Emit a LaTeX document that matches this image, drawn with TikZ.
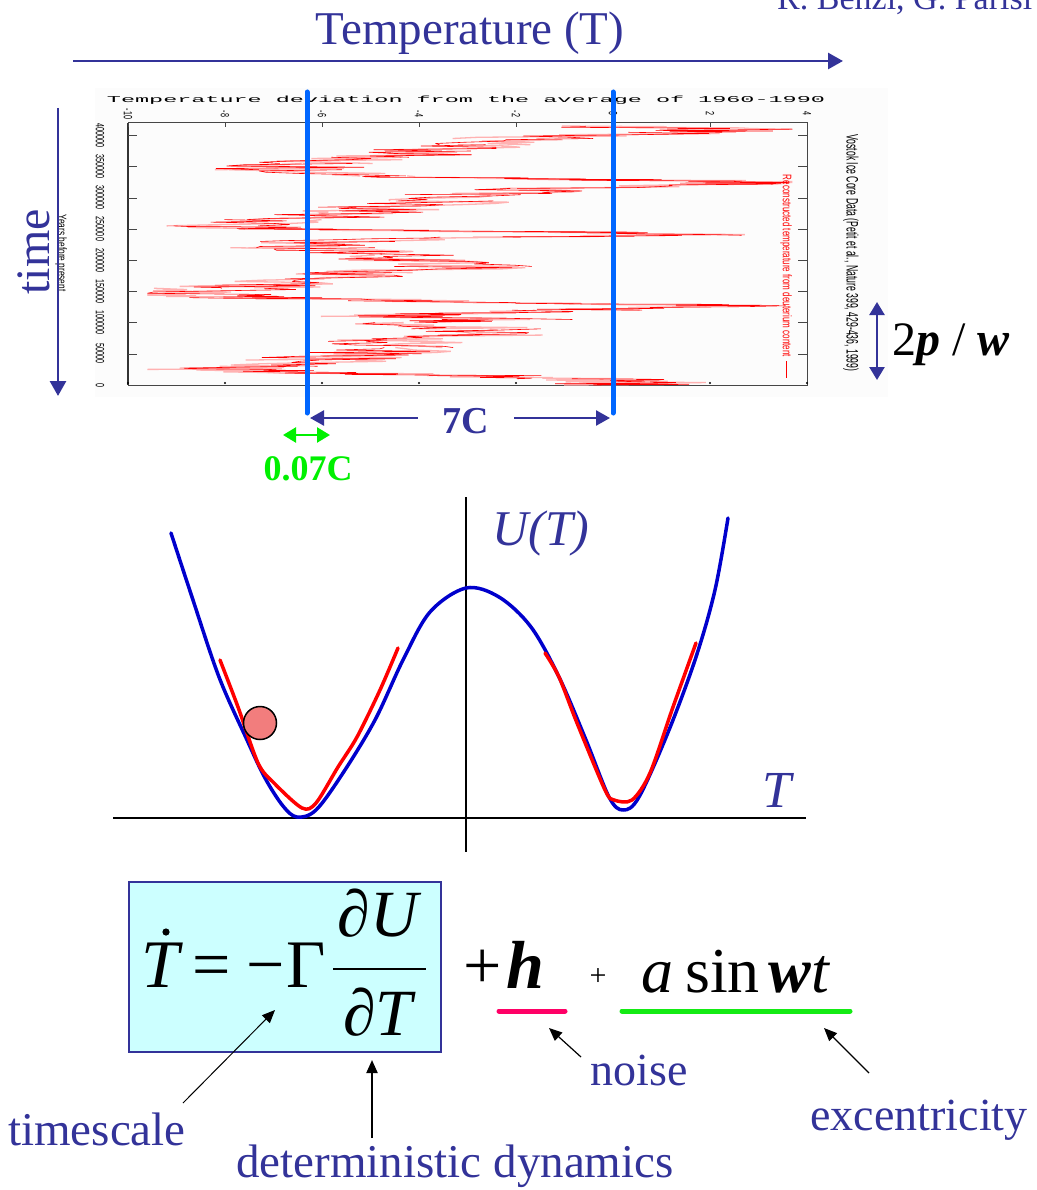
\documentclass[tikz,border=0pt]{standalone}
\usepackage{fontspec}
\setmainfont{Liberation Serif}
\setsansfont{Liberation Sans}
\setmonofont{Liberation Mono}
\usepackage{graphicx}
\usetikzlibrary{arrows.meta}
\definecolor{SlideBlue}{RGB}{51,51,153}
\definecolor{MarkBlue}{RGB}{0,102,255}
\definecolor{WellBlue}{RGB}{0,0,204}
\definecolor{FitRed}{RGB}{255,0,0}
\definecolor{NoiseGreen}{RGB}{0,240,0}
\definecolor{UnderPink}{RGB}{255,0,102}
\definecolor{UnderGreen}{RGB}{20,235,20}
\definecolor{BoxCyan}{RGB}{204,255,255}
\definecolor{BallRed}{RGB}{242,125,125}
\definecolor{ChartBack}{RGB}{252,252,252}
\newcommand{\pxfont}[1]{\fontsize{#1}{#1}\selectfont}

\begin{document}
\begin{tikzpicture}[x=1pt,y=-1pt,
  lbl/.style={inner sep=0pt,text=SlideBlue},
  tick/.style={inner sep=0pt,rotate=-90,font=\sffamily\pxfont{12}},
  bigarrow/.style={SlideBlue,line width=2.8pt,-{Triangle[length=15pt,width=16pt]}},
  dimarrow/.style={SlideBlue,line width=2.5pt,-{Triangle[length=14pt,width=15pt]}},
  both/.style={line width=2.5pt,{Triangle[length=13pt,width=15pt]}-{Triangle[length=13pt,width=15pt]}},
  marker/.style={MarkBlue,line width=5pt,line cap=round},
  well/.style={WellBlue,line width=3.5pt,line cap=round,line join=round},
  fit/.style={FitRed,line width=3.5pt,line cap=round,line join=round},
  callout/.style={black,line width=1.2pt,-{Triangle[length=13pt,width=11pt]}},
  under/.style={line width=5pt,line cap=round}]
\useasboundingbox (0,0) rectangle (1036,1190);

% header
\node[lbl,anchor=base west,font=\pxfont{34}] (authors) at (777,10) {R. Benzi, G. Parisi};
\node[lbl,anchor=base,font=\pxfont{47}] (tempLbl) at (470,45) {Temperature (T)};
\coordinate (tempFrom) at (73,61);
\coordinate (tempTo) at (843,61);
\draw[bigarrow] (tempFrom) -- (tempTo);
\node[lbl,rotate=90,font=\pxfont{48}] (timeLbl) at (34,252) {time};
\coordinate (timeFrom) at (58,108);
\coordinate (timeTo) at (58,396);

% vostok chart
\fill[ChartBack] (95,88) rectangle (888,397);
\node[inner sep=0pt] (chartTitle) at (466,100)
   {\resizebox{718pt}{6.5pt}{\ttfamily Temperature deviation from the average of 1960-1990}};
\draw[gray!55!black,line width=1pt] (128,123) rectangle (807,385);
\draw[black!80,line width=1.4pt] (128,123) -- (128,385);
\foreach \k/\yr in {0/0,1/50000,2/100000,3/150000,4/200000,5/250000,6/300000,7/350000,8/400000} {
   \node[tick] (yr\k) at (100,{385-31.2*\k}) {\scalebox{0.6}[1]{\yr}};
}
\foreach \k in {1,...,8} {
   \draw[gray!55!black] (128,{385-31.2*\k}) -- +(9,0) (807,{385-31.2*\k}) -- +(-9,0);
}
\foreach \k/\dt in {0/-10,1/-8,2/-6,3/-4,4/-2,5/0,6/2,7/4} {
   \node[tick] (dt\k) at ({128+97*\k},114) {\scalebox{0.6}[1]{\dt}};
   \draw[gray!55!black] ({128+97*\k},123) -- +(0,4);
   \fill ({128+97*\k},383) circle[radius=1.1pt];
}
\pgfmathsetseed{2718}
\foreach \pass/\ink/\lw in {1/red!30/1.3pt,2/FitRed/0.6pt} {
   \foreach \tk/\tv [remember=\tk as \tkp (initially 0),remember=\tv as \tvp (initially 0)] in
   {5/0.5,10/-0.5,15/-3,20/-6,25/-8.5,30/-7,40/-6,50/-5.5,60/-4,70/-4.5,80/-2.5,90/-3,
    100/-4,105/-2,110/-4.5,115/-3,120/-1,127/2.5,130/0,135/-4,140/-7.5,145/-8.5,155/-8,
    160/-7,170/-6,180/-5,190/-3,200/-4,210/-5,220/-6.5,230/-6,237/-2,240/2,245/-1,250/-7,
    255/-8,265/-6.5,275/-5.5,285/-4.5,295/-3.5,305/-3,315/-1,322/2.5,326/3,330/-1,335/-5.5,
    345/-7,355/-6,365/-5,375/-3.5,385/-3,395/-2,405/1.5,410/2.5,415/-1} {
      \draw[\ink,line width=\lw,line join=bevel] plot[domain=0:1,samples=6]
         ({128+48.5*(10+max(-9.6,min(3.7,(\tvp)+((\tv)-(\tvp))*\x+1.6*rand)))},
          {385-0.624*((\tkp)+((\tk)-(\tkp))*\x)});
   }
}
\node[rotate=-90,inner sep=0pt] (source) at (851,253)
   {\resizebox{237pt}{12pt}{\sffamily Vostok Ice Core Data (Petit et al., Nature 399, 429-436, 1999)}};
\node[rotate=-90,inner sep=0pt,text=FitRed] (series) at (786,266)
   {\resizebox{182pt}{9pt}{\sffamily Reconstructed temperature from deuterium content}};
\draw[FitRed,line width=1pt] (786,361) -- (786,378);
\node[rotate=-90,inner sep=0pt] (yrsbp) at (61,253)
   {\resizebox{77pt}{9pt}{\sffamily Years before present}};
\draw[bigarrow] (timeFrom) -- (timeTo);

% markers and spans
\coordinate (coldTop) at (307,92);
\coordinate (coldBot) at (307,413);
\coordinate (warmTop) at (613,92);
\coordinate (warmBot) at (613,413);
\draw[marker] (coldTop) -- (coldBot);
\draw[marker] (warmTop) -- (warmBot);
\node[lbl,inner xsep=25pt,font=\bfseries\pxfont{38}] (sevenC) at (466,421) {7C};
\coordinate (coldTip) at (310,418);
\coordinate (warmTip) at (610,418);
\draw[dimarrow] (sevenC.west |- coldTip) -- (coldTip);
\draw[dimarrow] (sevenC.east |- warmTip) -- (warmTip);
\coordinate (tolL) at (283,435);
\coordinate (tolR) at (330,435);
\draw[both,NoiseGreen] (tolL) -- (tolR);
\node[lbl,text=NoiseGreen,anchor=base,font=\bfseries\pxfont{36}] (tolLbl) at (308,480) {0.07C};
\coordinate (perTop) at (877,302);
\coordinate (perBot) at (877,380);
\draw[both,SlideBlue] (perTop) -- (perBot);
\node[inner sep=0pt,anchor=base west,font=\pxfont{48}] (perLbl) at (892,355)
   {2\textbf{\textit{p}} / \textbf{\textit{w}}};

% double well
\coordinate (uAxTop) at (466,497);
\coordinate (uAxBot) at (466,852);
\coordinate (tAxL) at (113,818);
\coordinate (tAxR) at (806,818);
\draw[line width=2pt] (tAxL) -- (tAxR);
\draw[line width=1.8pt] (uAxTop) -- (uAxBot);
\node[lbl,anchor=base,font=\itshape\pxfont{50}] (uLbl) at (541,545) {U(T)};
\node[lbl,anchor=base,font=\itshape\pxfont{52}] (tLbl) at (777,807) {T};
\draw[well] plot[smooth,tension=0.55] coordinates {
   (171,533) (192,597) (219,677) (247,740) (265,778) (283,806) (297,817) (316,810)
   (343,773) (375,720) (403,660) (430,612) (466,588) (499,597) (531,627) (559,677)
   (586,740) (609,797) (623,810) (639,797) (669,730) (696,657) (715,590) (728,518)};
\draw[fit] plot[smooth,tension=0.5] coordinates {
   (220,660) (238,707) (258,763) (274,783) (302,808) (316,803) (338,767) (357,737)
   (380,690) (398,648)};
\draw[fit] plot[smooth,tension=0.5] coordinates {
   (545,653) (559,677) (577,723) (605,790) (614,800) (632,800) (650,773) (673,707)
   (696,643)};
\node[circle,draw,line width=1.5pt,fill=BallRed,minimum size=33pt,inner sep=0pt] (ball) at (260,723) {};

% equation
\node[draw=SlideBlue,line width=1.5pt,fill=BoxCyan,minimum width=312pt,minimum height=170pt,
   anchor=north west,inner sep=0pt] (eqbox) at (128,881) {};
\node[anchor=base,inner sep=0pt,font=\itshape\pxfont{68}] (tdot) at (160,987) {T};
\fill (166,932) circle[radius=3.6pt];
\node[anchor=base,inner sep=0pt,font=\pxfont{68}] (eqsign) at (212,987) {=};
\node[anchor=base,inner sep=0pt,font=\pxfont{68}] (minus) at (266,987) {−};
\node[anchor=base,inner sep=0pt,font=\pxfont{68}] (gam) at (306,987) {Γ};
\node[anchor=base,inner sep=0pt,font=\itshape\pxfont{66}] (numer) at (378,936) {∂U};
\draw[line width=2.5pt] (333,969) -- (426,969);
\node[anchor=base,inner sep=0pt,font=\itshape\pxfont{66}] (denom) at (378,1035) {∂T};
\node[anchor=base west,inner sep=0pt,font=\pxfont{68}] (plusEta) at (463,988) {+\kern5pt\textbf{\textit{h}}};
\node[anchor=base,inner sep=0pt,font=\pxfont{30}] (plusSmall) at (598,985) {+};
\node[anchor=base west,inner sep=0pt,font=\pxfont{64}] (forcing) at (641,992)
   {\textit{a}\hspace{12pt}sin\hspace{9pt}\textbf{\textit{w}}\textit{t}};
\coordinate (etaL) at (499,1011);
\coordinate (etaR) at (565,1011);
\coordinate (forcL) at (622,1011);
\coordinate (forcR) at (850,1011);
\draw[under,UnderPink] (etaL) -- (etaR);
\draw[under,UnderGreen] (forcL) -- (forcR);

% callouts
\node[lbl,anchor=base,font=\pxfont{47}] (tsLbl) at (97,1145) {timescale};
\node[lbl,anchor=base,font=\pxfont{47}] (detLbl) at (455,1177) {deterministic dynamics};
\node[lbl,anchor=base,font=\pxfont{46}] (noiseLbl) at (639,1085) {noise};
\node[lbl,anchor=base,font=\pxfont{46}] (excLbl) at (919,1130) {excentricity};
\coordinate (tsTail) at (183,1103);
\coordinate (tsTip) at (275,1010);
\coordinate (detTail) at (372,1138);
\coordinate (detTip) at (372,1060);
\coordinate (noiseTail) at (581,1057);
\coordinate (noiseTip) at (549,1028);
\coordinate (excTail) at (869,1073);
\coordinate (excTip) at (824,1028);
\draw[callout,line width=1pt] (tsTail) -- (tsTip);
\draw[callout,line width=2pt] (detTail) -- (detTip);
\draw[callout] (noiseTail) -- (noiseTip);
\draw[callout] (excTail) -- (excTip);
\end{tikzpicture}
\end{document}
